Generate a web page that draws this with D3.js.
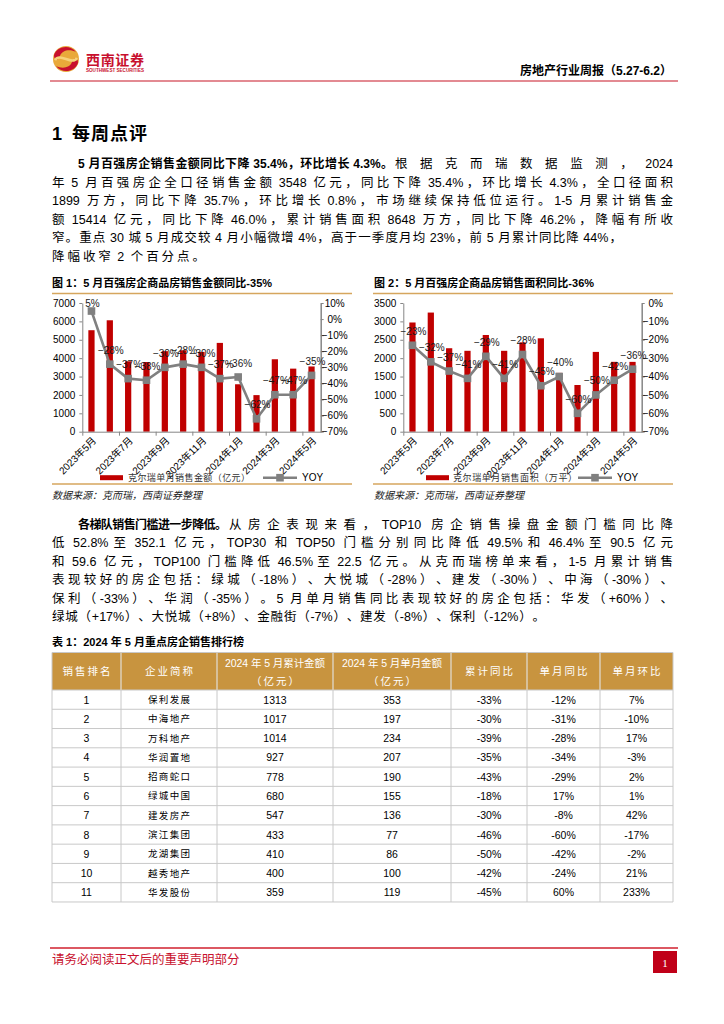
<!DOCTYPE html>
<html><head><meta charset="utf-8">
<script src="https://cdn.jsdelivr.net/npm/d3@7"></script>
<style>
html,body{margin:0;padding:0;background:#fff;}
svg{display:block;font-family:"Liberation Sans","Noto Sans CJK SC",sans-serif;}
</style></head><body>
<svg id="page" width="724" height="1024"></svg>
<script>
// ---------------- DATA ----------------
const months = ["2023年5月","2023年6月","2023年7月","2023年8月","2023年9月","2023年10月","2023年11月","2023年12月","2024年1月","2024年2月","2024年3月","2024年4月","2024年5月"];
const salesAmount = [5520,6060,3830,3790,4380,4430,4340,4830,2580,1990,3940,3430,3548];
const salesAmountYoY = [5,-28,-37,-38,-30,-28,-30,-37,-36,-62,-47,-47,-35];
const salesArea = [2970,3240,2270,2200,2630,2200,2430,2540,1600,1270,2170,1900,1899];
const salesAreaYoY = [-23,-32,-37,-41,-29,-41,-28,-45,-40,-60,-50,-42,-36];
const amountTicks = [0,1000,2000,3000,4000,5000,6000,7000];
const amountYoYTicks = [10,0,-10,-20,-30,-40,-50,-60,-70];
const areaTicks = [0,500,1000,1500,2000,2500,3000,3500];
const areaYoYTicks = [0,-10,-20,-30,-40,-50,-60,-70];
const seriesNames1 = ["克尔瑞单月销售金额（亿元）","YOY"];
const seriesNames2 = ["克尔瑞单月销售面积（万平）","YOY"];

const tableHeaders = [["销售排名"],["企业简称"],["2024 年 5 月累计金额","（亿元）"],["2024 年 5 月单月金额","（亿元）"],["累计同比"],["单月同比"],["单月环比"]];
const tableRank = [1,2,3,4,5,6,7,8,9,10,11];
const tableCompany = ["保利发展","中海地产","万科地产","华润置地","招商蛇口","绿城中国","建发房产","滨江集团","龙湖集团","越秀地产","华发股份"];
const tableCumAmount = [1313,1017,1014,927,778,680,547,433,410,400,359];
const tableMonthAmount = [353,197,234,207,190,155,136,77,86,100,119];
const tableCumYoY = [-33,-30,-39,-35,-43,-18,-30,-46,-50,-42,-45];
const tableMonthYoY = [-12,-31,-28,-34,-29,17,-8,-60,-42,-24,60];
const tableMonthMoM = [7,-10,17,-3,2,1,42,-17,-2,21,233];

// paragraph text: [text, bold, right edge of segment (null = natural)]
const para1 = [
  {x:78, y:164, segs:[["5 月百强房企销售金额同比下降 35.4%，环比增长 4.3%。",true,393],["根据克而瑞数据监测，2024",false,673]]},
  {x:52, y:183, segs:[["年 5 月百强房企全口径销售金额 3548 亿元，同比下降 35.4%，环比增长 4.3%，全口径面积",false,673]]},
  {x:52, y:201, segs:[["1899 万方，同比下降 35.7%，环比增长 0.8%，市场继续保持低位运行。1-5 月累计销售金",false,673]]},
  {x:52, y:220, segs:[["额 15414 亿元，同比下降 46.0%，累计销售面积 8648 万方，同比下降 46.2%，降幅有所收",false,673]]},
  {x:52, y:238, segs:[["窄。重点 30 城 5 月成交较 4 月小幅微增 4%，高于一季度月均 23%，前 5 月累计同比降 44%，",false,622]]},
  {x:52, y:257, segs:[["降幅收窄 2 个百分点。",false,205]]}
];
const para2 = [
  {x:78, y:525, segs:[["各梯队销售门槛进一步降低。",true,227],["从房企表现来看，TOP10 房企销售操盘金额门槛同比降",false,673]]},
  {x:52, y:543, segs:[["低 52.8%至 352.1 亿元，TOP30 和 TOP50 门槛分别同比降低 49.5%和 46.4%至 90.5 亿元",false,673]]},
  {x:52, y:562, segs:[["和 59.6 亿元，TOP100 门槛降低 46.5%至 22.5 亿元。从克而瑞榜单来看，1-5 月累计销售",false,673]]},
  {x:52, y:580, segs:[["表现较好的房企包括：绿城（-18%）、大悦城（-28%）、建发（-30%）、中海（-30%）、",false,673]]},
  {x:52, y:599, segs:[["保利（-33%）、华润（-35%）。5 月单月销售同比表现较好的房企包括：华发（+60%）、",false,673]]},
  {x:52, y:617, segs:[["绿城（+17%）、大悦城（+8%）、金融街（-7%）、建发（-8%）、保利（-12%）。",false,545]]}
];

// ---------------- PAGE ----------------
const svg = d3.select("#page");
const RED = "#C00000";

// header logo
const logo = svg.append("g");
logo.append("circle").attr("cx",66).attr("cy",59).attr("r",13).attr("fill","#E9A93A");
logo.append("path").attr("d","M54,55 C57,46 70,44 76,52 C70,49 62,50 60,56 C58,61 54,61 54,55 Z").attr("fill","#C8102E");
logo.append("path").attr("d","M78,63 C75,72 62,74 56,66 C62,69 70,68 72,62 C74,57 78,57 78,63 Z").attr("fill","#C8102E");
logo.append("path").attr("d","M55,60 C60,52 72,66 77,58").attr("fill","none").attr("stroke","#F6D27A").attr("stroke-width",2.5);
svg.append("text").attr("x",86).attr("y",60).attr("dominant-baseline","central").attr("font-size",14).attr("font-weight","bold").attr("fill","#C8102E").attr("textLength",58).text("西南证券");
svg.append("text").attr("x",86).attr("y",70).attr("dominant-baseline","central").attr("font-size",4.5).attr("font-weight","bold").attr("fill","#C8102E").attr("textLength",58).attr("lengthAdjust","spacingAndGlyphs").text("SOUTHWEST SECURITIES");
svg.append("text").attr("x",672).attr("y",71).attr("text-anchor","end").attr("dominant-baseline","central").attr("font-size",12).attr("font-weight","bold").attr("fill","#000").text("房地产行业周报（5.27-6.2）");
svg.append("line").attr("x1",50).attr("x2",678).attr("y1",81).attr("y2",81).attr("stroke","#E38A92").attr("stroke-width",2);

// section title
svg.append("text").attr("x",52).attr("y",134).attr("dominant-baseline","central").attr("font-size",18).attr("font-weight","bold").attr("fill","#000").text("1");
svg.append("text").attr("x",72).attr("y",134).attr("dominant-baseline","central").attr("font-size",18).attr("font-weight","bold").attr("fill","#000").attr("letter-spacing",1).text("每周点评");

// justified text: tokens = single CJK chars or latin runs; extra space goes between tokens
const TOKEN = /(\s*)([\u3000-\u9FFF\uFF00-\uFFEF]|[^\s\u3000-\u9FFF\uFF00-\uFFEF]+)/g;
const measurer = svg.append("text").attr("x",-1000).attr("y",-1000);
function measure(s, size, bold) {
  measurer.attr("font-size", size).attr("font-weight", bold ? "bold" : "normal").text(s);
  return measurer.node().getComputedTextLength();
}
function justifyText(x, y, str, to, bold, size) {
  const toks = [];
  let m;
  TOKEN.lastIndex = 0;
  while ((m = TOKEN.exec(str)) !== null) toks.push({sp: m[1].length > 0, t: m[2]});
  const spaceW = size * 0.28;
  toks.forEach(k => k.w = measure(k.t, size, bold));
  const sumW = d3.sum(toks, k => k.w);
  const sumSp = d3.sum(toks.slice(1), k => k.sp ? spaceW : 0);
  const extra = toks.length > 1 ? (to - x - sumW - sumSp) / (toks.length - 1) : 0;
  let cx = x;
  toks.forEach((k, i) => {
    if (i > 0) cx += extra + (k.sp ? spaceW : 0);
    k.x = cx;
    cx += k.w;
  });
  const t = svg.append("text").attr("y", y).attr("dominant-baseline","central")
    .attr("font-size", size).attr("font-weight", bold ? "bold" : "normal").attr("fill","#000");
  t.selectAll("tspan").data(toks).join("tspan").attr("x", k => k.x).text(k => k.t);
}
function drawPara(lines) {
  lines.forEach(l => {
    let cx = l.x;
    l.segs.forEach(s => {
      justifyText(cx, l.y, s[0], s[2], s[1], s[1] ? 12 : 12.5);
      cx = s[2] + 2;
    });
  });
}
drawPara(para1);
drawPara(para2);
measurer.remove();

// figure titles and sources
const figTitles = [{x:52, t:"图 1：5 月百强房企商品房销售金额同比-35%"},{x:374, t:"图 2：5 月百强房企商品房销售面积同比-36%"}];
figTitles.forEach(f => {
  svg.append("text").attr("x",f.x).attr("y",283).attr("dominant-baseline","central").attr("font-size",11).attr("font-weight","bold").attr("fill","#000").text(f.t);
  svg.append("text").attr("x",f.x).attr("y",495).attr("dominant-baseline","central").attr("font-size",10).attr("font-style","italic").attr("fill","#222").text("数据来源：克而瑞，西南证券整理");
});

function fmtPct(v){ return (v < 0 ? "\u2212" : "") + Math.abs(v) + "%"; }

function drawChart(cfg) {
  const g = svg.append("g");
  g.append("line").attr("x1",cfg.x0).attr("x2",cfg.x0+300).attr("y1",293.5).attr("y2",293.5).attr("stroke","#D6A65E").attr("stroke-width",1.5);
  g.append("line").attr("x1",cfg.x0).attr("x2",cfg.x0+300).attr("y1",484).attr("y2",484).attr("stroke","#D6A65E").attr("stroke-width",1.5);
  const left = cfg.x0 + 30.3, right = left + 238.4, top = 303, bottom = 431.7;
  const x = d3.scaleBand().domain(months).range([left,right]).paddingInner(0.66).paddingOuter(0.33);
  const xi = d3.scaleLinear().domain([0, months.length]).range([left, right]);
  const yL = d3.scaleLinear().domain([0, cfg.leftTicks[cfg.leftTicks.length-1]]).range([bottom, top]);
  const yR = d3.scaleLinear().domain([-70, cfg.rightTicks[0]]).range([bottom, top]);
  const cxOf = d => x(d) + x.bandwidth()/2;

  g.append("g").selectAll("rect").data(cfg.bars).join("rect")
    .attr("x",(d,i)=>x(months[i])).attr("y",d=>yL(d)).attr("width",x.bandwidth()).attr("height",d=>bottom-yL(d)).attr("fill",RED);

  const styleAxis = sel => {
    sel.selectAll(".domain").attr("stroke","#868686");
    sel.selectAll(".tick line").attr("stroke","#868686");
    sel.selectAll(".tick text").attr("font-size",10).attr("fill","#000").attr("font-family",'"Liberation Sans","Noto Sans CJK SC",sans-serif');
  };
  const aL = g.append("g").attr("transform",`translate(${left},0)`)
    .call(d3.axisLeft(yL).tickValues(cfg.leftTicks).tickSize(3).tickSizeOuter(0).tickPadding(4).tickFormat(d3.format("d")));
  styleAxis(aL);
  const aR = g.append("g").attr("transform",`translate(${right},0)`)
    .call(d3.axisRight(yR).tickValues(cfg.rightTicks).tickSize(3).tickSizeOuter(0).tickFormat(fmtPct));
  styleAxis(aR);
  aR.selectAll(".tick text").attr("text-anchor","middle").attr("x",14);
  aR.select(".domain").attr("stroke-width",1.5);
  const aB = g.append("g").attr("transform",`translate(0,${bottom})`)
    .call(d3.axisBottom(xi).tickValues(d3.range(0, months.length, 2)).tickSize(4).tickSizeOuter(0).tickFormat(""));
  styleAxis(aB);

  g.append("g").selectAll("text").data(months.filter((d,i)=>i%2===0)).join("text")
    .attr("transform", d => `translate(${cxOf(d)+3},${bottom+7}) rotate(-45)`)
    .attr("text-anchor","end").attr("dominant-baseline","central").attr("font-size",10).attr("fill","#000").text(d=>d);

  const line = d3.line().x((d,i)=>cxOf(months[i])).y(d=>yR(d));
  g.append("path").datum(cfg.yoy).attr("d",line).attr("fill","none").attr("stroke","#808080").attr("stroke-width",2.6).attr("stroke-linejoin","round");
  g.append("g").selectAll("rect").data(cfg.yoy).join("rect")
    .attr("x",(d,i)=>cxOf(months[i])-3.8).attr("y",d=>yR(d)-3.8).attr("width",7.6).attr("height",7.6).attr("fill","#808080");
  g.append("g").selectAll("text").data(cfg.yoy).join("text")
    .attr("x",(d,i)=>cxOf(months[i])+1).attr("y",d=>Math.max(yR(d)-14, top))
    .attr("text-anchor","middle").attr("dominant-baseline","central").attr("font-size",10).attr("fill","#1a1a1a").text(fmtPct);

  // legend
  const L = cfg.legend, ly = 477.7;
  g.append("rect").attr("x",cfg.x0+L.rect).attr("y",ly-2.5).attr("width",23).attr("height",5).attr("fill",RED);
  g.append("text").attr("x",cfg.x0+L.text).attr("y",ly).attr("dominant-baseline","central").attr("font-size",9).attr("fill","#333")
    .attr("textLength",L.textLen).attr("lengthAdjust","spacing").text(cfg.names[0]);
  g.append("line").attr("x1",cfg.x0+L.line).attr("x2",cfg.x0+L.line+34).attr("y1",ly).attr("y2",ly).attr("stroke","#808080").attr("stroke-width",2.6);
  g.append("rect").attr("x",cfg.x0+L.line+17-3.8).attr("y",ly-3.8).attr("width",7.6).attr("height",7.6).attr("fill","#808080");
  g.append("text").attr("x",cfg.x0+L.line+39).attr("y",ly).attr("dominant-baseline","central").attr("font-size",10).attr("fill","#000").text(cfg.names[1]);
}

drawChart({x0:52, bars:salesAmount, yoy:salesAmountYoY, leftTicks:amountTicks, rightTicks:amountYoYTicks, names:seriesNames1,
  legend:{rect:48, text:76, textLen:122, line:211}});
drawChart({x0:373, bars:salesArea, yoy:salesAreaYoY, leftTicks:areaTicks, rightTicks:areaYoYTicks, names:seriesNames2,
  legend:{rect:53, text:80, textLen:124, line:205}});

// table
svg.append("text").attr("x",52).attr("y",642).attr("dominant-baseline","central").attr("font-size",11).attr("font-weight","bold").attr("fill","#000").text("表 1：2024 年 5 月重点房企销售排行榜");
const colX = [52,121,217,333,451,527,600,673];
const hTop = 652.5, hBot = 690, rowH = 19.27;
const tg = svg.append("g");
tg.append("rect").attr("x",colX[0]).attr("y",hTop).attr("width",colX[7]-colX[0]).attr("height",hBot-hTop).attr("fill","#C8943F");
const colMid = i => (colX[i]+colX[i+1])/2;
tableHeaders.forEach((h,i) => {
  h.forEach((s,k) => {
    const yy = h.length === 1 ? (hTop+hBot)/2 : (k===0 ? 662.5 : 680.5);
    const t = tg.append("text").attr("y",yy).attr("dominant-baseline","central")
      .attr("font-size",10.5).attr("fill","#fff").text(s);
    if (h.length === 1 || k === 1) {
      t.attr("x", colMid(i) - 24).attr("textLength", 48).attr("lengthAdjust","spacing");
    } else {
      t.attr("x", colMid(i) - 50).attr("textLength", 100).attr("lengthAdjust","spacing");
    }
  });
});
const rows = tableRank.map((r,i)=>[String(r), tableCompany[i], String(tableCumAmount[i]), String(tableMonthAmount[i]), tableCumYoY[i]+"%", tableMonthYoY[i]+"%", tableMonthMoM[i]+"%"]);
const tBot = hBot + rowH*rows.length;
rows.forEach((r,ri) => {
  const yc = hBot + rowH*ri + rowH/2;
  r.forEach((v,ci) => {
    const t = tg.append("text").attr("y",yc).attr("dominant-baseline","central").attr("fill","#000").text(v);
    if (ci === 1) {
      t.attr("x", colMid(ci) - 21).attr("font-size", 9.5).attr("textLength", 42).attr("lengthAdjust","spacing");
    } else {
      t.attr("x", colMid(ci)).attr("text-anchor","middle").attr("font-size", 10.5);
    }
  });
});
// grid
for (let i=0;i<=rows.length;i++) {
  const yy = hBot + rowH*i;
  tg.append("line").attr("x1",colX[0]).attr("x2",colX[7]).attr("y1",yy).attr("y2",yy).attr("stroke","#C8C8C8").attr("stroke-width",1);
}
tg.append("line").attr("x1",colX[0]).attr("x2",colX[7]).attr("y1",hTop).attr("y2",hTop).attr("stroke","#C8C8C8");
colX.forEach(cx => {
  tg.append("line").attr("x1",cx).attr("x2",cx).attr("y1",hTop).attr("y2",tBot).attr("stroke", "#C8C8C8").attr("stroke-width",1);
});
colX.slice(1,7).forEach(cx => {
  tg.append("line").attr("x1",cx).attr("x2",cx).attr("y1",hTop).attr("y2",hBot).attr("stroke","#E6D2B0").attr("stroke-width",1);
});

// footer
svg.append("line").attr("x1",50).attr("x2",678).attr("y1",948).attr("y2",948).attr("stroke","#D0202E").attr("stroke-width",1.5);
svg.append("text").attr("x",52).attr("y",960).attr("dominant-baseline","central").attr("font-size",12.5).attr("fill","#C8102E").text("请务必阅读正文后的重要声明部分");
svg.append("rect").attr("x",653).attr("y",951).attr("width",24).attr("height",22).attr("fill","#C00018");
svg.append("text").attr("x",665).attr("y",962.5).attr("text-anchor","middle").attr("dominant-baseline","central").attr("font-size",11).attr("fill","#fff").attr("font-family","'Liberation Serif',serif").text("1");
</script>
</body></html>
